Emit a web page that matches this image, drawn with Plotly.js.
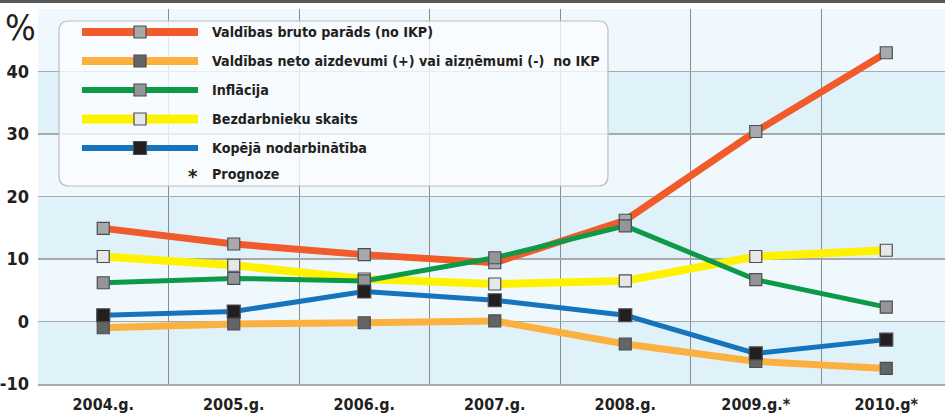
<!DOCTYPE html>
<html>
<head>
<meta charset="utf-8">
<script src="https://cdn.plot.ly/plotly-3.0.1.min.js"></script>
<style>html,body{margin:0;padding:0;background:#fff;}#chart{width:945px;height:417px;}</style>
</head>
<body>
<div id="chart"></div>
<script>
// ---- data ----
const years = ["2004.g.", "2005.g.", "2006.g.", "2007.g.", "2008.g.", "2009.g.*", "2010.g*"];
const seriesNames = [
  "Valdības bruto parāds (no IKP)",
  "Valdības neto aizdevumi (+) vai aizņēmumi (-)  no IKP",
  "Inflācija",
  "Bezdarbnieku skaits",
  "Kopējā nodarbinātība"
];
const brutoParads   = [14.9, 12.4, 10.7, 9.4, 16.2, 30.4, 43.0];
const netoAizdevumi = [-1.0, -0.4, -0.2, 0.1, -3.6, -6.4, -7.5];
const inflacija     = [6.2, 6.9, 6.5, 10.2, 15.3, 6.7, 2.3];
const bezdarbnieki  = [10.4, 9.0, 6.8, 6.0, 6.5, 10.4, 11.4];
const nodarbinatiba = [1.0, 1.6, 4.8, 3.4, 1.0, -5.1, -2.9];
const yTicks = [-10, 0, 10, 20, 30, 40];
const noteText = "Prognoze";

// ---- styles ----
const FONT = "'Liberation Sans Narrow', 'DejaVu Sans Condensed', 'Arial Narrow', sans-serif";
const TXT = "#231f20";
const styles = [
  {line: "#f15a29", lw: 7, mk: "#a7a9ac", ms: 12},
  {line: "#fbb040", lw: 7, mk: "#636466", ms: 12},
  {line: "#0d9a48", lw: 5, mk: "#939598", ms: 12},
  {line: "#fff200", lw: 8, mk: "#e6e7e8", ms: 12},
  {line: "#1574bb", lw: 5, mk: "#231f20", ms: 13}
];
const values = [brutoParads, netoAizdevumi, inflacija, bezdarbnieki, nodarbinatiba];
const drawOrder = [1, 0, 3, 2, 4];

const traces = drawOrder.map(i => ({
  type: "scatter", mode: "lines+markers", name: seriesNames[i],
  x: years, y: values[i],
  line: {color: styles[i].line, width: styles[i].lw},
  marker: {symbol: "square", size: styles[i].ms, color: styles[i].mk,
           line: {color: "#4d4d4f", width: 1.2}},
  showlegend: false, hoverinfo: "x+y"
}));

// ---- layout helpers ----
const ML = 38, MT = 9, MB = 33, W = 945, H = 417;
const PW = W - ML, PH = H - MT - MB;
const px = x => (x - ML) / PW;
const py = y => (H - MB - y) / PH;

const shapes = [];
// alternating bands
[[-10, 0], [10, 20], [30, 40]].forEach(b => shapes.push({
  type: "rect", xref: "paper", yref: "y", x0: 0, x1: 1, y0: b[0], y1: b[1],
  fillcolor: "#dff2fa", line: {width: 0}, layer: "below"
}));
// top dark bar
shapes.push({type: "rect", xref: "paper", yref: "paper", x0: px(0), x1: px(W), y0: py(0), y1: py(3),
  fillcolor: "#58595b", line: {width: 0}, layer: "above"});
// rounded legend box
(function () {
  const x0 = px(59), x1 = px(608), y0 = py(186), y1 = py(21);
  const rx = 10 / PW, ry = 10 / PH;
  const path = `M ${x0 + rx} ${y1} L ${x1 - rx} ${y1} Q ${x1} ${y1} ${x1} ${y1 - ry} ` +
    `L ${x1} ${y0 + ry} Q ${x1} ${y0} ${x1 - rx} ${y0} L ${x0 + rx} ${y0} Q ${x0} ${y0} ${x0} ${y0 + ry} ` +
    `L ${x0} ${y1 - ry} Q ${x0} ${y1} ${x0 + rx} ${y1} Z`;
  shapes.push({type: "path", xref: "paper", yref: "paper", path: path,
    fillcolor: "rgba(250,253,255,0.8)", line: {color: "#bcbec0", width: 1.2}, layer: "above"});
})();

const annotations = [];
const rowY = [32, 61, 90, 119, 148];
seriesNames.forEach((name, i) => {
  const yy = py(rowY[i]);
  shapes.push({type: "line", xref: "paper", yref: "paper", x0: px(82), x1: px(198), y0: yy, y1: yy,
    line: {color: styles[i].line, width: styles[i].lw + 1}, layer: "above"});
  const s = styles[i].ms;
  shapes.push({type: "rect", xref: "paper", yref: "paper", xsizemode: "pixel", ysizemode: "pixel",
    xanchor: px(140), yanchor: yy, x0: -s / 2, x1: s / 2, y0: -s / 2, y1: s / 2,
    fillcolor: styles[i].mk, line: {color: "#4d4d4f", width: 1.2}, layer: "above"});
  annotations.push({xref: "paper", yref: "paper", x: px(210), y: yy, xanchor: "left", yanchor: "middle",
    text: name, showarrow: false, font: {family: FONT, size: 14.2, color: TXT, weight: "bold"}});
});
annotations.push({xref: "paper", yref: "paper", x: px(193), y: py(176), xanchor: "center", yanchor: "middle",
  text: "*", showarrow: false, font: {family: FONT, size: 20, color: TXT, weight: "bold"}});
annotations.push({xref: "paper", yref: "paper", x: px(210), y: py(174), xanchor: "left", yanchor: "middle",
  text: noteText, showarrow: false, font: {family: FONT, size: 14.2, color: TXT, weight: "bold"}});
annotations.push({xref: "paper", yref: "paper", x: px(3), y: py(27), xanchor: "left", yanchor: "middle",
  text: "%", showarrow: false, font: {family: FONT, size: 36, color: TXT}});

const layout = {
  width: W, height: H,
  margin: {l: ML, r: 0, t: MT, b: MB, pad: 0},
  paper_bgcolor: "#ffffff", plot_bgcolor: "#eff8fd",
  showlegend: false,
  font: {family: FONT, color: TXT},
  xaxis: {
    type: "category", range: [-0.5, 6.45], tickson: "boundaries",
    showgrid: true, gridcolor: "#8a8c8e", gridwidth: 1,
    showline: true, linecolor: "#a7a9ac", linewidth: 2,
    ticks: "", ticklabelstandoff: 5,
    tickfont: {family: FONT, size: 16, color: TXT, weight: "bold"},
    zeroline: false, fixedrange: true
  },
  yaxis: {
    range: [-10, 50], tickvals: yTicks, ticktext: yTicks.map(String),
    showgrid: true, gridcolor: "#a7a9ac", gridwidth: 1.5,
    zeroline: false, showline: false, ticks: "", ticklabelstandoff: 8,
    tickfont: {family: FONT, size: 18, color: TXT, weight: "bold"},
    fixedrange: true
  },
  shapes: shapes,
  annotations: annotations
};

Plotly.newPlot("chart", traces, layout, {displayModeBar: false, staticPlot: true});
</script>
</body>
</html>
